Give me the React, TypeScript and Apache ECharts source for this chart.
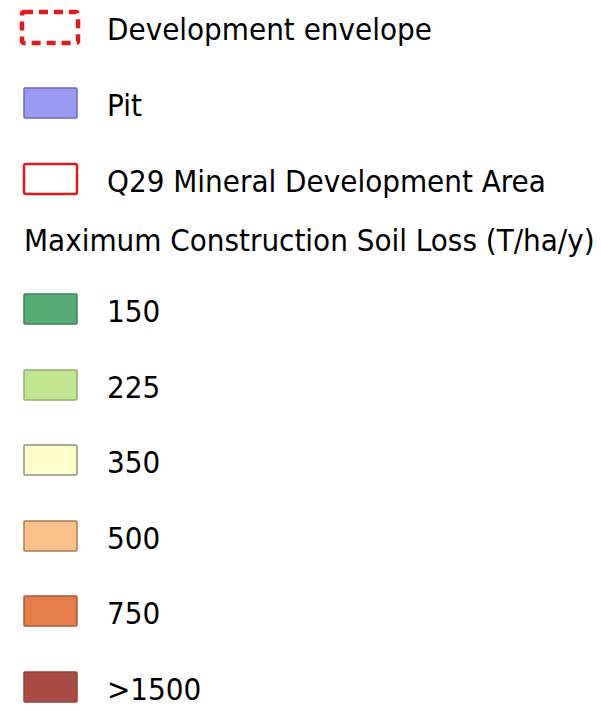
import React, { useEffect, useRef } from "react";
import * as echarts from "echarts";

const boundaryLabels = ["Development envelope", "Pit", "Q29 Mineral Development Area"];
const heading = "Maximum Construction Soil Loss (T/ha/y)";
const classLabels = ["150", "225", "350", "500", "750", ">1500"];
const classFills = ["#55ad74", "#c0e590", "#ffffcc", "#fdc18a", "#e57d4b", "#a84b43"];
const classBorders = ["#3f8058", "#8fb06a", "#8f8f82", "#a67d5c", "#a85c3a", "#93423b"];

const FONT = "'DejaVu Sans Condensed', 'Liberation Sans', sans-serif";
const FS = 31;

export default function App() {
  const ref = useRef<HTMLDivElement>(null);
  useEffect(() => {
    document.body.style.margin = "0";
    const chart = echarts.init(ref.current!, null, { renderer: "svg" });
    const sx = 24, sw = 53, sh = 30, tx = 107;
    const els: any[] = [];
    const textEl = (x: number, y: number, t: string) => ({
      type: "text",
      x,
      y,
      style: { text: t, fontFamily: FONT, fontSize: FS, fill: "#000", verticalAlign: "middle", textAlign: "left" },
    });
    const boundaryY = [27, 103, 179];
    // Development envelope (dashed red)
    els.push({
      type: "rect",
      shape: { x: 22, y: 12, width: 56, height: 31, r: 2 },
      style: { fill: "none", stroke: "#e31a1c", lineWidth: 4.5, lineDash: [9, 6] },
    });
    // Pit
    els.push({
      type: "rect",
      shape: { x: sx, y: boundaryY[1] - sh / 2, width: sw, height: sh, r: 1 },
      style: { fill: "#9a9af3", stroke: "#6d6db3", lineWidth: 1.5 },
    });
    // Q29
    els.push({
      type: "rect",
      shape: { x: sx, y: boundaryY[2] - sh / 2, width: sw, height: sh, r: 2 },
      style: { fill: "none", stroke: "#e31a1c", lineWidth: 2.5 },
    });
    boundaryLabels.forEach((l, i) => els.push(textEl(tx, boundaryY[i] + 2, l)));
    els.push(textEl(sx, 240, heading));
    const classY = [309, 385, 460, 536, 611, 687];
    classLabels.forEach((l, i) => {
      els.push({
        type: "rect",
        shape: { x: sx, y: classY[i] - sh / 2, width: sw, height: sh, r: 1 },
        style: { fill: classFills[i], stroke: classBorders[i], lineWidth: 1.5 },
      });
      els.push(textEl(tx, classY[i] + 2, l));
    });
    chart.setOption({ animation: false, backgroundColor: "#fff", graphic: els });
    return () => chart.dispose();
  }, []);
  return <div ref={ref} style={{ width: 601, height: 711 }} />;
}
